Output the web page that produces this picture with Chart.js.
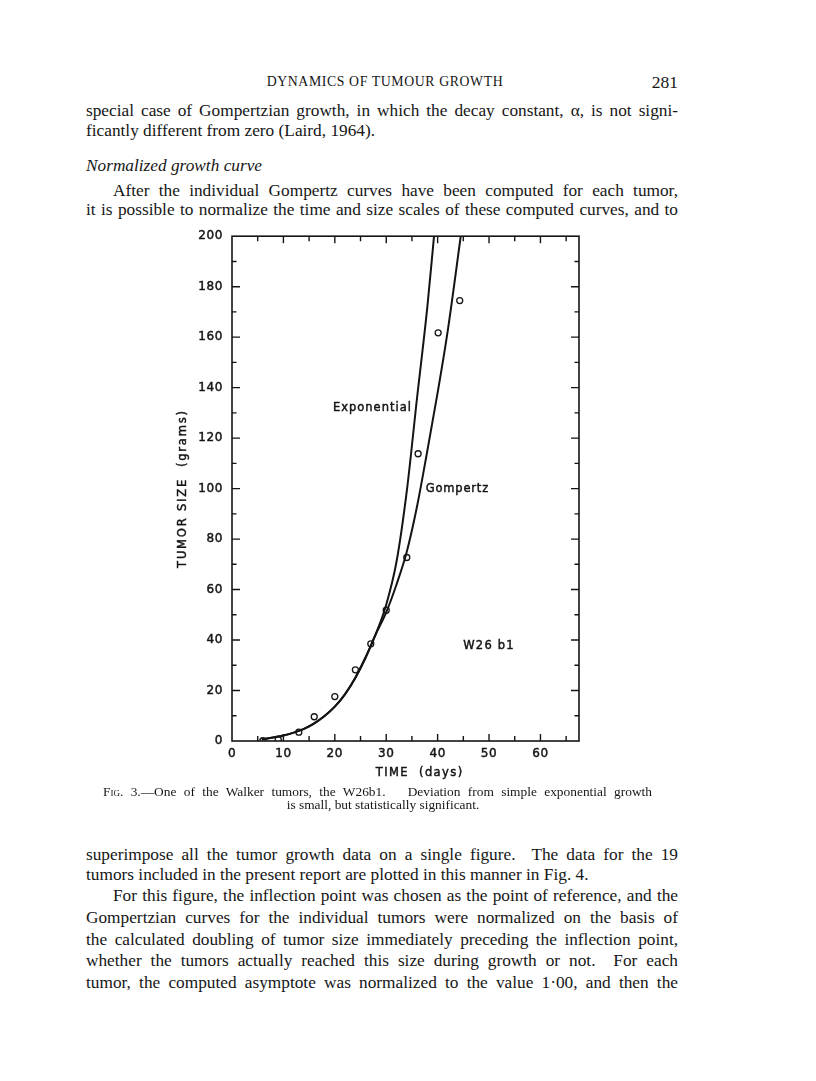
<!DOCTYPE html>
<html>
<head>
<meta charset="utf-8">
<script src="https://cdn.jsdelivr.net/npm/chart.js@4/dist/chart.umd.min.js"></script>
<style>
  html, body { margin: 0; padding: 0; background: #ffffff; }
  body { width: 816px; height: 1081px; position: relative; overflow: hidden;
         font-family: "Liberation Serif", "DejaVu Serif", serif; color: #161616; }
  .ln { position: absolute; left: 86px; width: 592px; white-space: nowrap;
        font-size: 17.3px; line-height: 20px; height: 20px; }
  .ln span { display: inline-block; }
  .ind { left: 113px; width: 565px; }
  .hdr { position: absolute; top: 73px; left: 200px; width: 370px; text-align: center;
         font-size: 13.8px; letter-spacing: 0.6px; line-height: 18px; }
  .pg { position: absolute; top: 72px; left: 640px; width: 38px; text-align: right;
        font-size: 17.5px; line-height: 20px; }
  .it { font-style: italic; }
  .cap { position: absolute; white-space: nowrap; font-size: 13.4px; line-height: 14px; height: 14px; }
  .cap span { display: inline-block; }
  .sc { font-variant: small-caps; }
  #wrap { position: absolute; left: 150px; top: 220px; width: 450px; height: 570px; }
</style>
</head>
<body>
<div class="hdr">DYNAMICS OF TUMOUR GROWTH</div>
<div class="pg">281</div>

<div class="ln j" style="top:101px"><span>special case of Gompertzian growth, in which the decay constant, α, is not signi-</span></div>
<div class="ln" style="top:121px"><span>ficantly different from zero (Laird, 1964).</span></div>
<div class="ln it" style="top:156px"><span>Normalized growth curve</span></div>
<div class="ln ind j" style="top:181px"><span>After the individual Gompertz curves have been computed for each tumor,</span></div>
<div class="ln j" style="top:200px"><span>it is possible to normalize the time and size scales of these computed curves, and to</span></div>

<div id="wrap"><canvas id="chart" width="450" height="570"></canvas></div>

<div class="cap j" style="top:785px; left:103px; width:549px"><span><span class="sc">Fig</span>. 3.—One of the Walker tumors, the W26b1.&nbsp;&nbsp; Deviation from simple exponential growth</span></div>
<div class="cap" style="top:798px; left:200px; width:366px; text-align:center"><span>is small, but statistically significant.</span></div>

<div class="ln j" style="top:845px"><span>superimpose all the tumor growth data on a single figure.&nbsp; The data for the 19</span></div>
<div class="ln" style="top:865px"><span>tumors included in the present report are plotted in this manner in Fig. 4.</span></div>
<div class="ln ind j" style="top:886px"><span>For this figure, the inflection point was chosen as the point of reference, and the</span></div>
<div class="ln j" style="top:908px"><span>Gompertzian curves for the individual tumors were normalized on the basis of</span></div>
<div class="ln j" style="top:930px"><span>the calculated doubling of tumor size immediately preceding the inflection point,</span></div>
<div class="ln j" style="top:951px"><span>whether the tumors actually reached this size during growth or not.&nbsp; For each</span></div>
<div class="ln j" style="top:973px"><span>tumor, the computed asymptote was normalized to the value 1·00, and then the</span></div>

<script>
// ---------- data ----------
const timeTickLabels = [0, 10, 20, 30, 40, 50, 60];
const sizeTickLabels = [0, 20, 40, 60, 80, 100, 120, 140, 160, 180, 200];
const timeTickMarks = [5, 10, 15, 20, 25, 30, 35, 40, 45, 50, 55, 60, 65];
const sizeTickMarks = [10, 20, 30, 40, 50, 60, 70, 80, 90, 100, 110, 120, 130, 140, 150, 160, 170, 180, 190];

// Exponential fitted curve (days, grams)
const expDays = [5.8, 8, 10, 12, 14, 16, 18, 20, 22, 24, 26, 28, 30, 32, 34, 36, 38, 39.3];
const expVals = [0.6, 1.4, 2.2, 3.3, 4.8, 7.0, 9.9, 13.6, 18.6, 25.0, 33.0, 42.5, 54, 71, 99, 136, 172, 200];

// Gompertz fitted curve (days, grams)
const gompDays = [5.8, 8, 10, 12, 14, 16, 18, 20, 22, 24, 26, 28, 30, 32, 34, 36, 38, 40, 42, 44.5];
const gompVals = [0.6, 1.4, 2.2, 3.3, 4.8, 7.0, 9.9, 13.6, 18.6, 25.2, 33.3, 42.5, 51, 62, 75, 93, 115, 138, 163, 200];

// Observed tumour sizes
const obsDays = [6, 9, 13, 16, 20, 24, 27, 30, 34, 36.2, 40.1, 44.3];
const obsVals = [0.1, 0.6, 3.5, 9.6, 17.6, 28.2, 38.5, 51.8, 72.7, 113.8, 161.7, 174.5];

const curveLabels = ['Exponential', 'Gompertz'];
const tumourName = 'W26 b1';
const xTitle = 'TIME  (days)';
const yTitle = 'TUMOR SIZE  (grams)';

// ---------- justify the text lines ----------
document.querySelectorAll('.j').forEach(el => {
  const span = el.firstElementChild;
  const target = el.getBoundingClientRect().width;
  const w = span.getBoundingClientRect().width;
  const txt = span.textContent;
  const spaces = (txt.match(/[ \u00a0]/g) || []).length;
  if (w > target) {
    span.style.letterSpacing = ((target - w) / txt.length) + 'px';
  } else if (spaces) {
    span.style.wordSpacing = ((target - w) / spaces) + 'px';
  }
});

// ---------- chart ----------
const INK = '#141414';
const tickFont = { family: 'DejaVu Sans', size: 12 };

function inkText(ctx, s, px, py) {
  ctx.fillText(s, px, py);
  ctx.strokeText(s, px, py);
}

const frameAndTicks = {
  id: 'frameAndTicks',
  beforeDraw(chart) { chart.ctx.letterSpacing = '0.6px'; },
  afterDraw(chart) {
    const { ctx, chartArea: a, scales: { x, y } } = chart;
    ctx.save();
    ctx.strokeStyle = INK;
    ctx.lineWidth = 1.6;
    ctx.strokeRect(a.left, a.top, a.right - a.left, a.bottom - a.top);
    ctx.lineWidth = 1.4;
    ctx.beginPath();
    timeTickMarks.forEach(v => {
      const px = x.getPixelForValue(v);
      const L = v % 10 === 0 ? 7 : 5;
      ctx.moveTo(px, a.bottom); ctx.lineTo(px, a.bottom - L);
      ctx.moveTo(px, a.top); ctx.lineTo(px, a.top + L);
    });
    sizeTickMarks.forEach(v => {
      const py = y.getPixelForValue(v);
      const L = v % 20 === 0 ? 8 : 4.5;
      ctx.moveTo(a.left, py); ctx.lineTo(a.left + L, py);
      ctx.moveTo(a.right, py); ctx.lineTo(a.right - L, py);
    });
    ctx.stroke();

    // curve labels and tumour name
    ctx.fillStyle = INK;
    ctx.strokeStyle = INK;
    ctx.lineWidth = 0.45;
    ctx.textBaseline = 'middle';
    ctx.font = '11.5px "DejaVu Sans"';
    ctx.letterSpacing = '1px';
    ctx.textAlign = 'right';
    inkText(ctx, curveLabels[0], x.getPixelForValue(35.0), y.getPixelForValue(132));
    ctx.letterSpacing = '0.8px';
    ctx.textAlign = 'left';
    inkText(ctx, curveLabels[1], x.getPixelForValue(37.7), y.getPixelForValue(100));
    ctx.letterSpacing = '1.2px';
    ctx.textAlign = 'center';
    inkText(ctx, tumourName, x.getPixelForValue(50.0), y.getPixelForValue(37.5));

    // axis titles
    ctx.font = '11.5px "DejaVu Sans"';
    ctx.letterSpacing = '1.4px';
    ctx.textAlign = 'center';
    inkText(ctx, xTitle, x.getPixelForValue(36.5), a.bottom + 32);
    ctx.save();
    ctx.translate(a.left - 49, (a.top + a.bottom) / 2);
    ctx.rotate(-Math.PI / 2);
    ctx.letterSpacing = '1.8px';
    inkText(ctx, yTitle, 0, 0);
    ctx.restore();
    ctx.restore();
  }
};

new Chart(document.getElementById('chart'), {
  type: 'line',
  data: {
    datasets: [
      {
        label: curveLabels[0],
        data: expDays.map((d, i) => ({ x: d, y: expVals[i] })),
        borderColor: INK, borderWidth: 2, pointRadius: 0,
        cubicInterpolationMode: 'monotone', fill: false
      },
      {
        label: curveLabels[1],
        data: gompDays.map((d, i) => ({ x: d, y: gompVals[i] })),
        borderColor: INK, borderWidth: 2, pointRadius: 0,
        cubicInterpolationMode: 'monotone', fill: false
      },
      {
        label: 'Observed',
        data: obsDays.map((d, i) => ({ x: d, y: obsVals[i] })),
        showLine: false, pointRadius: 3, pointBorderWidth: 1.3,
        pointBackgroundColor: '#ffffff', pointBorderColor: INK
      }
    ]
  },
  options: {
    responsive: false,
    animation: false,
    devicePixelRatio: 1,
    layout: { padding: { left: 0, top: 16, right: 21, bottom: 0 } },
    plugins: { legend: { display: false }, tooltip: { enabled: false } },
    scales: {
      x: {
        type: 'linear', min: 0, max: 67.5,
        afterBuildTicks: s => { s.ticks = timeTickLabels.map(v => ({ value: v })); },
        afterFit: s => { s.height = 49; },
        grid: { display: false, drawTicks: false },
        border: { display: false },
        ticks: { color: INK, font: tickFont, padding: 6, maxRotation: 0, autoSkip: false,
                 textStrokeColor: INK, textStrokeWidth: 0.45 }
      },
      y: {
        type: 'linear', min: 0, max: 200,
        afterBuildTicks: s => { s.ticks = sizeTickLabels.map(v => ({ value: v })); },
        afterFit: s => { s.width = 82; },
        grid: { display: false, drawTicks: false },
        border: { display: false },
        ticks: { color: INK, font: tickFont, padding: 9, autoSkip: false,
                 textStrokeColor: INK, textStrokeWidth: 0.45 }
      }
    }
  },
  plugins: [frameAndTicks]
});
</script>
</body>
</html>
